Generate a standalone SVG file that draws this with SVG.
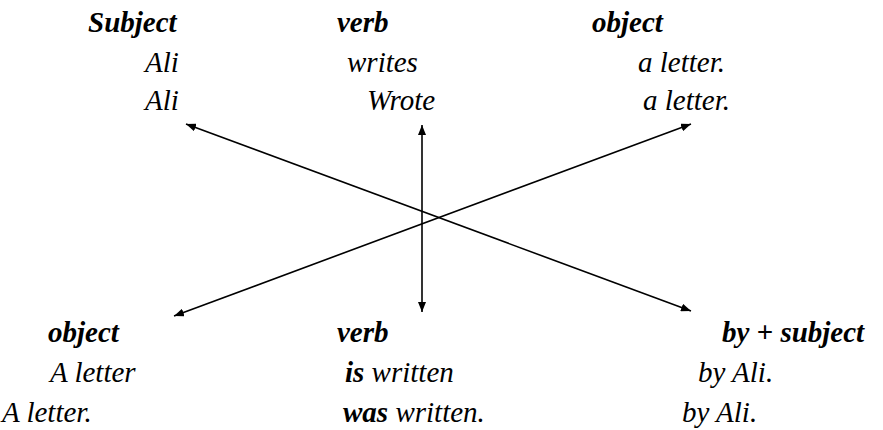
<svg xmlns="http://www.w3.org/2000/svg" width="883" height="430" viewBox="0 0 883 430">
<style>
.t{font-family:"Liberation Serif","Times New Roman",serif;font-style:italic;font-size:29px;fill:#000}
.b{font-weight:bold}
.ln{stroke:#000;stroke-width:1.6;fill:none;marker-start:url(#ah);marker-end:url(#ah)}
</style>
<defs>
<marker id="ah" viewBox="0 0 10 8" refX="10" refY="4" markerWidth="10" markerHeight="8" markerUnits="userSpaceOnUse" orient="auto-start-reverse">
<path d="M0,0 L10,4 L0,8 Z" fill="#000"/>
</marker>
</defs>
<rect width="883" height="430" fill="#fff"/>
<g id="active-subject">
<text class="t b" x="88" y="32">Subject</text>
<text class="t" x="145" y="72">Ali</text>
<text class="t" x="145" y="110">Ali</text>
</g>
<g id="active-verb">
<text class="t b" x="337" y="32">verb</text>
<text class="t" x="347" y="72">writes</text>
<text class="t" x="367" y="110">Wrote</text>
</g>
<g id="active-object">
<text class="t b" x="592" y="32">object</text>
<text class="t" x="638" y="72">a letter.</text>
<text class="t" x="643" y="110">a letter.</text>
</g>
<g id="passive-object">
<text class="t b" x="48" y="342">object</text>
<text class="t" x="50" y="382">A letter</text>
<text class="t" x="2" y="422">A letter.</text>
</g>
<g id="passive-verb">
<text class="t b" x="337" y="342">verb</text>
<text class="t" x="345" y="382"><tspan class="b">is</tspan> written</text>
<text class="t" x="343" y="422"><tspan class="b">was</tspan> written.</text>
</g>
<g id="passive-agent">
<text class="t b" x="722" y="342">by + subject</text>
<text class="t" x="698" y="382">by Ali.</text>
<text class="t" x="682" y="422">by Ali.</text>
</g>
<g id="connectors">
<line class="ln" x1="186" y1="124" x2="691" y2="311"/>
<line class="ln" x1="174" y1="316" x2="691" y2="124"/>
<line class="ln" x1="422" y1="125" x2="422" y2="312"/>
</g>
</svg>
